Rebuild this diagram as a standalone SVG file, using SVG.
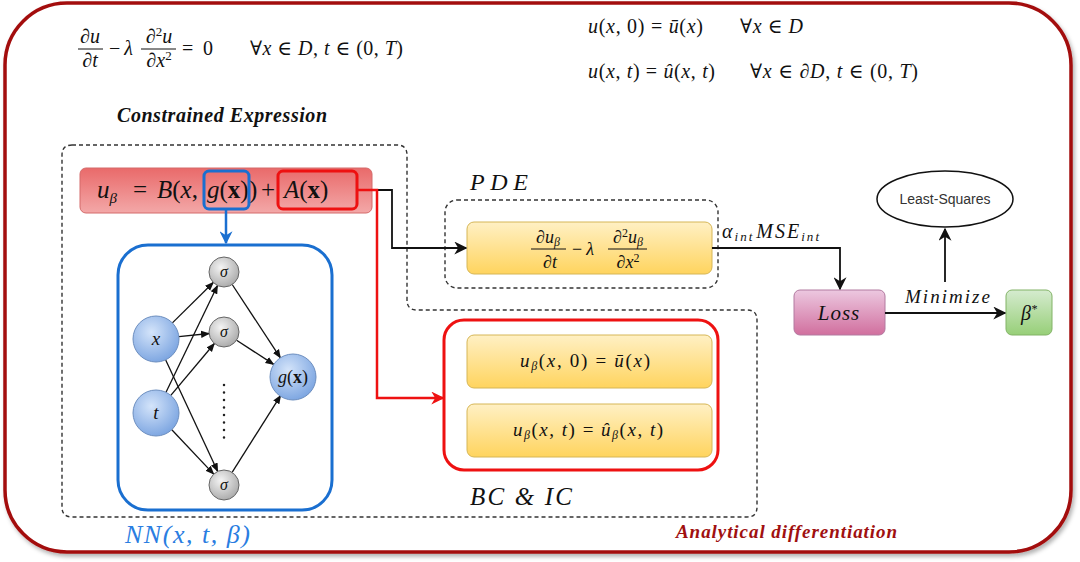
<svg xmlns="http://www.w3.org/2000/svg" width="1080" height="562" viewBox="0 0 1080 562">
<defs>
<style>
.m{font-family:"Liberation Serif","DejaVu Serif",serif;fill:#111}
.i{font-style:italic}
.b{font-weight:bold}
.dash{fill:none;stroke:#333;stroke-width:1.4;stroke-dasharray:4 3}
.edge{fill:none;stroke:#111;stroke-width:1.3}
.conn{fill:none;stroke:#111;stroke-width:1.8}
.ybox{fill:url(#gy);stroke:#d6b656;stroke-width:1}
</style>
<linearGradient id="gy" x1="0" y1="0" x2="0" y2="1"><stop offset="0" stop-color="#fff0c4"/><stop offset="1" stop-color="#ffd45e"/></linearGradient>
<linearGradient id="gr" x1="0" y1="0" x2="0" y2="1"><stop offset="0" stop-color="#e96a6a"/><stop offset="1" stop-color="#f3a8a8"/></linearGradient>
<linearGradient id="gp" x1="0" y1="0" x2="0" y2="1"><stop offset="0" stop-color="#ecc8e0"/><stop offset="1" stop-color="#d16f9e"/></linearGradient>
<linearGradient id="gg" x1="0" y1="0" x2="0" y2="1"><stop offset="0" stop-color="#d5ebcf"/><stop offset="1" stop-color="#97cf78"/></linearGradient>
<radialGradient id="gb" cx="0.4" cy="0.35" r="0.7"><stop offset="0" stop-color="#d4e4fa"/><stop offset="1" stop-color="#79a3e0"/></radialGradient>
<radialGradient id="gs" cx="0.4" cy="0.35" r="0.7"><stop offset="0" stop-color="#f4f4f4"/><stop offset="1" stop-color="#a8a8a8"/></radialGradient>
<filter id="sh" x="-5%" y="-5%" width="110%" height="110%"><feDropShadow dx="2" dy="3" stdDeviation="2" flood-color="#000" flood-opacity="0.3"/></filter>
<marker id="ak" viewBox="0 0 10 10" refX="9" refY="5" markerWidth="9" markerHeight="9" markerUnits="userSpaceOnUse" orient="auto"><path d="M0,1 L10,5 L0,9 z" fill="#111"/></marker>
<marker id="akb" viewBox="0 0 10 10" refX="9" refY="5" markerWidth="13" markerHeight="13" markerUnits="userSpaceOnUse" orient="auto"><path d="M0,0 L10,5 L0,10 L3,5 z" fill="#111"/></marker>
<marker id="ar" viewBox="0 0 10 10" refX="9" refY="5" markerWidth="13" markerHeight="13" markerUnits="userSpaceOnUse" orient="auto"><path d="M0,0 L10,5 L0,10 L3,5 z" fill="#ee1111"/></marker>
<marker id="ab" viewBox="0 0 10 10" refX="9" refY="5" markerWidth="13" markerHeight="13" markerUnits="userSpaceOnUse" orient="auto"><path d="M0,0 L10,5 L0,10 L3,5 z" fill="#1a6fd0"/></marker>
</defs>

<g id="frame">
<rect x="5" y="3" width="1066" height="549" rx="62" fill="#fff" stroke="#a30e0e" stroke-width="3.5" filter="url(#sh)"/>
</g>

<g id="equations">
<text class="m" font-size="20" x="90" y="43" text-anchor="middle">∂<tspan class="i">u</tspan></text>
<line x1="78" y1="49" x2="103" y2="49" stroke="#111" stroke-width="1"/>
<text class="m" font-size="20" x="90" y="67" text-anchor="middle">∂<tspan class="i">t</tspan></text>
<text class="m" font-size="20" x="109" y="55">−<tspan class="i" dx="4">λ</tspan></text>
<text class="m" font-size="20" x="159" y="43" text-anchor="middle">∂<tspan font-size="13" dy="-7">2</tspan><tspan class="i" dy="7">u</tspan></text>
<line x1="141" y1="49" x2="176" y2="49" stroke="#111" stroke-width="1"/>
<text class="m" font-size="20" x="159" y="67" text-anchor="middle">∂<tspan class="i">x</tspan><tspan font-size="13" dy="-7">2</tspan></text>
<text class="m" font-size="20" x="182" y="55" textLength="31">= 0</text>
<text class="m" font-size="20" x="250" y="55" textLength="153">∀<tspan class="i">x</tspan> ∈ <tspan class="i">D</tspan>,  <tspan class="i">t</tspan> ∈ (0, <tspan class="i">T</tspan>)</text>

<text class="m" font-size="20" x="588" y="33" textLength="115"><tspan class="i">u</tspan>(<tspan class="i">x</tspan>, 0) = <tspan class="i">ū</tspan>(<tspan class="i">x</tspan>)</text>
<text class="m" font-size="20" x="740" y="33" textLength="63">∀<tspan class="i">x</tspan> ∈ <tspan class="i">D</tspan></text>
<text class="m" font-size="20" x="588" y="78" textLength="127"><tspan class="i">u</tspan>(<tspan class="i">x</tspan>, <tspan class="i">t</tspan>) = <tspan class="i">û</tspan>(<tspan class="i">x</tspan>, <tspan class="i">t</tspan>)</text>
<text class="m" font-size="20" x="750" y="78" textLength="168">∀<tspan class="i">x</tspan> ∈ ∂<tspan class="i">D</tspan>,  <tspan class="i">t</tspan> ∈ (0, <tspan class="i">T</tspan>)</text>

<text class="m i b" font-size="20" x="117" y="122" textLength="210">Constrained Expression</text>
</g>

<g id="regions">
<path class="dash" d="M72 145 H397 Q407 145 407 155 V300 Q407 310 417 310 H747 Q757 310 757 320 V507 Q757 517 747 517 H72 Q62 517 62 507 V155 Q62 145 72 145 Z"/>
<rect class="dash" x="445" y="200" width="273" height="88" rx="12"/>
<text class="m i" font-size="24" x="470" y="190" textLength="58">PDE</text>
<text class="m i" font-size="25" x="470" y="505" textLength="102">BC &amp; IC</text>
</g>

<g id="constrained-expression">
<rect x="80" y="168" width="292" height="45" rx="6" fill="url(#gr)" stroke="#d46a6a" stroke-width="1"/>
<text class="m" font-size="25" y="198"><tspan class="i" x="97">u</tspan><tspan class="i" font-size="15" dy="5">β</tspan><tspan x="133" dy="-5">=</tspan><tspan class="i" x="157">B</tspan>(<tspan class="i">x</tspan>,<tspan class="i" x="207">g</tspan>(<tspan class="b">x</tspan>)<tspan x="249">)</tspan><tspan x="261">+</tspan><tspan class="i" x="284">A</tspan>(<tspan class="b">x</tspan>)</text>
<rect x="204" y="171" width="45" height="38" rx="5" fill="none" stroke="#1a6fd0" stroke-width="3"/>
<rect x="278" y="171" width="79" height="38" rx="5" fill="none" stroke="#ee1111" stroke-width="3"/>
</g>

<g id="nn">
<rect x="118" y="245" width="214" height="265" rx="30" fill="#fff" stroke="#1a6fd0" stroke-width="3"/>
<text class="m i" font-size="26" x="125" y="543" textLength="125" style="fill:#2a7de1">NN(x, t, β)</text>
</g>

<g id="nn-edges">
<line class="edge" x1="172.4" y1="322.9" x2="213.3" y2="282.5" marker-end="url(#ak)"/>
<line class="edge" x1="178.9" y1="336.7" x2="209.1" y2="333.5" marker-end="url(#ak)"/>
<line class="edge" x1="165.7" y1="359.9" x2="217.7" y2="471.4" marker-end="url(#ak)"/>
<line class="edge" x1="166" y1="392.3" x2="217.5" y2="285.5" marker-end="url(#ak)"/>
<line class="edge" x1="170.8" y1="395.4" x2="214.4" y2="343.5" marker-end="url(#ak)"/>
<line class="edge" x1="171.8" y1="429.7" x2="213.7" y2="474.1" marker-end="url(#ak)"/>
<line class="edge" x1="232.2" y1="284.5" x2="280.4" y2="357.8" marker-end="url(#ak)"/>
<line class="edge" x1="236.6" y1="340.2" x2="273.7" y2="364.4" marker-end="url(#ak)"/>
<line class="edge" x1="232.1" y1="472.4" x2="280.6" y2="395.6" marker-end="url(#ak)"/>
<line x1="224" y1="385" x2="224" y2="438" stroke="#222" stroke-width="2.5" stroke-linecap="round" stroke-dasharray="0 7.5"/>
</g>

<g id="node-x"><circle cx="156" cy="339" r="23" fill="url(#gb)" stroke="#6c8ebf" stroke-width="1"/><text class="m i" font-size="19" x="156" y="345" text-anchor="middle">x</text></g>
<g id="node-t"><circle cx="156" cy="413" r="23" fill="url(#gb)" stroke="#6c8ebf" stroke-width="1"/><text class="m i" font-size="19" x="156" y="419" text-anchor="middle">t</text></g>
<g id="node-g"><circle cx="293" cy="377" r="23" fill="url(#gb)" stroke="#6c8ebf" stroke-width="1"/><text class="m" font-size="18" x="293" y="383" text-anchor="middle"><tspan class="i">g</tspan>(<tspan class="b">x</tspan>)</text></g>
<g id="sigma-1"><circle cx="224" cy="272" r="15" fill="url(#gs)" stroke="#666" stroke-width="1"/><text class="m i" font-size="16" x="224" y="277" text-anchor="middle">σ</text></g>
<g id="sigma-2"><circle cx="224" cy="332" r="15" fill="url(#gs)" stroke="#666" stroke-width="1"/><text class="m i" font-size="16" x="224" y="337" text-anchor="middle">σ</text></g>
<g id="sigma-3"><circle cx="224" cy="485" r="15" fill="url(#gs)" stroke="#666" stroke-width="1"/><text class="m i" font-size="16" x="224" y="490" text-anchor="middle">σ</text></g>

<g id="pde">
<rect class="ybox" x="467" y="222" width="245" height="52" rx="7"/>
<text class="m" font-size="18" x="548" y="243" text-anchor="middle">∂<tspan class="i">u</tspan><tspan class="i" font-size="12" dy="3">β</tspan></text>
<line x1="531" y1="249" x2="566" y2="249" stroke="#111" stroke-width="1"/>
<text class="m" font-size="18" x="550" y="268" text-anchor="middle">∂<tspan class="i">t</tspan></text>
<text class="m" font-size="18" x="572" y="255">−<tspan class="i" dx="4">λ</tspan></text>
<text class="m" font-size="18" x="628" y="243" text-anchor="middle">∂<tspan font-size="12" dy="-6">2</tspan><tspan class="i" dy="6">u</tspan><tspan class="i" font-size="12" dy="3">β</tspan></text>
<line x1="608" y1="249" x2="647" y2="249" stroke="#111" stroke-width="1"/>
<text class="m" font-size="18" x="628" y="268" text-anchor="middle">∂<tspan class="i">x</tspan><tspan font-size="12" dy="-6">2</tspan></text>
</g>

<g id="bc-ic">
<rect x="444" y="320" width="274" height="150" rx="20" fill="#fff" stroke="#ee1111" stroke-width="3"/>
<rect class="ybox" x="467" y="335" width="245" height="53" rx="7"/>
<text class="m" font-size="19" x="585" y="367" text-anchor="middle" textLength="130"><tspan class="i">u</tspan><tspan class="i" font-size="12" dy="3">β</tspan><tspan dy="-3">(</tspan><tspan class="i">x</tspan>, 0) = <tspan class="i">ū</tspan>(<tspan class="i">x</tspan>)</text>
<rect class="ybox" x="467" y="404" width="245" height="53" rx="7"/>
<text class="m" font-size="19" x="588" y="436" text-anchor="middle" textLength="150"><tspan class="i">u</tspan><tspan class="i" font-size="12" dy="3">β</tspan><tspan dy="-3">(</tspan><tspan class="i">x</tspan>, <tspan class="i">t</tspan>) = <tspan class="i">û</tspan><tspan class="i" font-size="12" dy="3">β</tspan><tspan dy="-3">(</tspan><tspan class="i">x</tspan>, <tspan class="i">t</tspan>)</text>
</g>

<g id="loss"><rect x="794" y="290" width="91" height="45" rx="6" fill="url(#gp)" stroke="#b27aa0" stroke-width="1"/><text class="m i" font-size="21" x="839" y="320" text-anchor="middle" letter-spacing="1">Loss</text></g>
<g id="beta"><rect x="1006" y="290" width="46" height="45" rx="6" fill="url(#gg)" stroke="#82b366" stroke-width="1"/><text class="m i" font-size="20" x="1029" y="320" text-anchor="middle">β<tspan font-size="12" dy="-7">*</tspan></text></g>
<g id="least-squares"><ellipse cx="945" cy="199" rx="68" ry="28" fill="#fff" stroke="#111" stroke-width="1.5"/><text x="945" y="204" font-family="Liberation Sans, Arial, sans-serif" font-size="14" fill="#333" text-anchor="middle">Least-Squares</text></g>

<g id="connectors">
<line x1="226" y1="209" x2="226" y2="243" fill="none" stroke="#1a6fd0" stroke-width="2.5" marker-end="url(#ab)"/>
<path class="conn" d="M357 190 H392 V248 H466" marker-end="url(#akb)"/>
<path d="M357 190 H377 V398 H443" fill="none" stroke="#ee1111" stroke-width="2.5" marker-end="url(#ar)"/>
<path class="conn" d="M712 248 H840 V289" marker-end="url(#akb)"/>
<line class="conn" x1="885" y1="313" x2="1005" y2="313" marker-end="url(#akb)"/>
<line class="conn" x1="945" y1="282" x2="945" y2="229" marker-end="url(#akb)"/>
<text class="m i" font-size="20" x="722" y="238" textLength="97">α<tspan font-size="13" dy="3">int</tspan><tspan dy="-3" dx="2">MSE</tspan><tspan font-size="13" dy="3">int</tspan></text>
<text class="m i" font-size="19" x="905" y="303" textLength="85">Minimize</text>
</g>

<g id="caption">
<text class="m i b" font-size="19" x="676" y="538" textLength="221" style="fill:#a01010">Analytical differentiation</text>
</g>
</svg>
